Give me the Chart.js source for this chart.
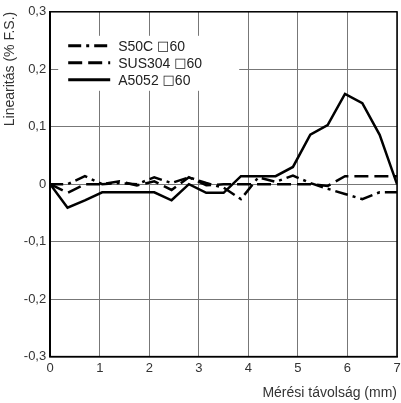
<!DOCTYPE html>
<html>
<head>
<meta charset="utf-8">
<script src="https://cdn.jsdelivr.net/npm/chart.js@4/dist/chart.umd.min.js"></script>
<style>
  body { margin: 0; background: #fff; }
  canvas { display: block; }
</style>
</head>
<body>
<canvas id="linearitas" width="401" height="403"></canvas>
<script>
// measuring distance (mm)
const distance = [0, 0.35, 0.7, 1.05, 1.4, 1.75, 2.1, 2.45, 2.8, 3.15, 3.5,
                  3.85, 4.2, 4.55, 4.9, 5.25, 5.6, 5.95, 6.3, 6.65, 7];
// linearity (% F.S.)
const s50c   = [0, 0, 0.014, 0, 0.002, 0, 0.012, 0.002, 0.012, 0.002, -0.006,
                -0.026, 0.012, 0.004, 0.015, 0.002, -0.008, -0.017, -0.026, -0.014, -0.014];
const sus304 = [0, -0.015, 0, 0, 0.005, -0.002, 0.005, -0.01, 0.012, -0.002, 0,
                0, 0, 0, 0, 0, -0.003, 0.014, 0.014, 0.014, 0.014];
const a5052  = [0, -0.041, -0.028, -0.014, -0.014, -0.014, -0.014, -0.028, 0, -0.015, -0.015,
                0.014, 0.014, 0.014, 0.03, 0.086, 0.103, 0.157, 0.141, 0.086, 0];
const seriesLabels = ['S50C \u25A160', 'SUS304 \u25A160', 'A5052 \u25A160'];
const yTicks = [-0.3, -0.2, -0.1, 0, 0.1, 0.2, 0.3];

const dashes = [[13, 5, 3, 5], [14, 6], []];
const FONT = '"Liberation Sans", Arial, sans-serif';

const toPoints = (ys) => ys.map((y, i) => ({ x: distance[i], y: y }));

// frame around the plot + legend in a white box inside it
const framePlugin = {
    id: 'frame',
    afterDatasetsDraw(chart) {
        const { ctx, chartArea: a } = chart;
        ctx.save();
        ctx.strokeStyle = '#000';
        ctx.lineWidth = 1.5;
        ctx.strokeRect(a.left, a.top, a.right - a.left, a.bottom - a.top);

        const bx = a.left + 8, by = a.top + 24;
        ctx.fillStyle = '#fff';
        ctx.fillRect(bx, by, 181, 55);
        ctx.textBaseline = 'middle';
        chart.data.datasets.forEach((ds, i) => {
            const y = by + 10 + i * 17;
            ctx.strokeStyle = '#000';
            ctx.lineWidth = 3;
            ctx.setLineDash(ds.borderDash);
            ctx.beginPath();
            ctx.moveTo(bx + 10, y);
            ctx.lineTo(bx + 52, y);
            ctx.stroke();
            ctx.setLineDash([]);
            ctx.fillStyle = '#222';
            // the square symbol is taken from DejaVu, it is too small in Liberation
            let x = bx + 60;
            ds.label.split(/(\u25A1)/).forEach(part => {
                if (!part) return;
                ctx.font = part === '\u25A1' ? '13px "DejaVu Sans"' : '14px ' + FONT;
                ctx.fillText(part, x, y + 1);
                x += ctx.measureText(part).width;
            });
        });
        ctx.restore();
    }
};

const datasets = [s50c, sus304, a5052].map((ys, i) => ({
    label: seriesLabels[i],
    data: toPoints(ys),
    showLine: true,
    borderColor: '#000',
    borderWidth: 2.5,
    borderDash: dashes[i],
    pointRadius: 0,
    fill: false,
    tension: 0
}));

const fmt = (v) => {
    const r = Math.round(v * 10) / 10;
    return r === 0 ? '0' : r.toFixed(1).replace('.', ',');
};

new Chart(document.getElementById('linearitas'), {
    type: 'scatter',
    data: { datasets: datasets },
    options: {
        responsive: false,
        animation: false,
        layout: { padding: { top: 1, right: 0, left: 2, bottom: 1 } },
        plugins: {
            legend: { display: false },
            tooltip: { enabled: false }
        },
        scales: {
            x: {
                type: 'linear',
                min: 0,
                max: 7,
                // only half of the "7" label is needed on the right
                afterFit(scale) {
                    scale.paddingRight = 4;
                },
                ticks: {
                    stepSize: 1,
                    color: '#333',
                    padding: 4,
                    font: { family: FONT, size: 13 }
                },
                grid: { color: '#777', lineWidth: 1, drawTicks: false },
                border: { color: '#000', width: 1.5 },
                title: {
                    display: true,
                    text: 'Mérési távolság (mm)',
                    align: 'end',
                    color: '#333',
                    padding: { top: 5, bottom: 0 },
                    font: { family: FONT, size: 14 }
                }
            },
            y: {
                min: -0.3,
                max: 0.3,
                afterBuildTicks(scale) {
                    scale.ticks = yTicks.map(v => ({ value: v }));
                },
                ticks: {
                    color: '#333',
                    padding: 4,
                    callback: (v) => fmt(v),
                    font: { family: FONT, size: 13 }
                },
                grid: { color: '#777', lineWidth: 1, drawTicks: false },
                border: { color: '#000', width: 1.5 },
                title: {
                    display: true,
                    text: 'Linearitás (% F.S.)',
                    align: 'end',
                    color: '#333',
                    padding: { top: 0, bottom: 1 },
                    font: { family: FONT, size: 14 }
                }
            }
        }
    },
    plugins: [framePlugin]
});
</script>
</body>
</html>
